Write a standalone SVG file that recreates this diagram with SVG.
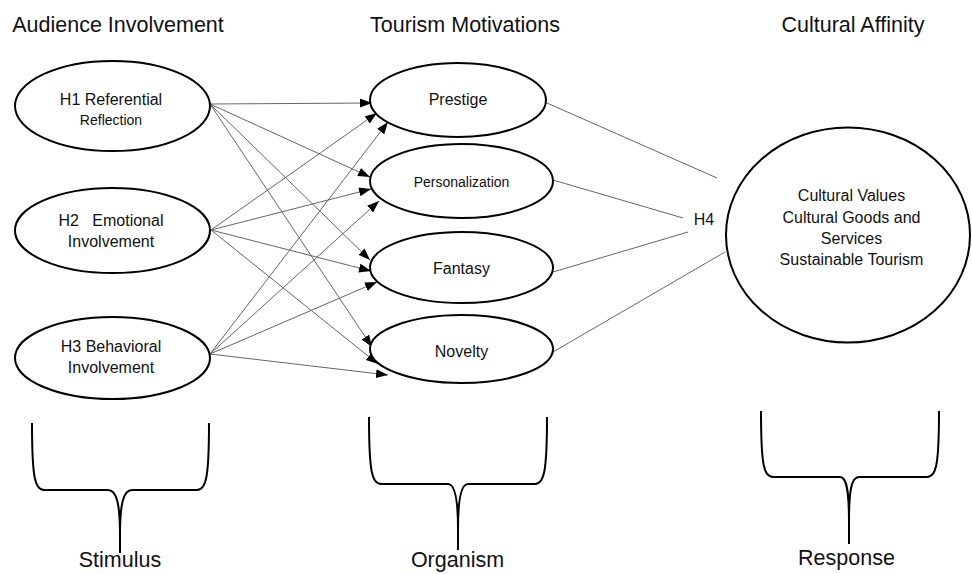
<svg xmlns="http://www.w3.org/2000/svg" width="972" height="574" viewBox="0 0 972 574">
<style>
text{font-family:"Liberation Sans",Arial,sans-serif;fill:#111;text-anchor:middle}
.title{font-size:21.5px}
.lbl{font-size:16px}
.sm{font-size:14px}
.node{fill:#fff;stroke:#000;stroke-width:2}
.arr{stroke:#666;stroke-width:1;fill:none;marker-end:url(#ah)}
.ln{stroke:#666;stroke-width:1;fill:none}
.brace{stroke:#000;stroke-width:2;fill:none}
</style>
<defs>
<marker id="ah" markerUnits="userSpaceOnUse" markerWidth="13" markerHeight="10" refX="12" refY="4.5" orient="auto">
<path d="M0,0 L12,4.5 L0,9 z" fill="#000"/>
</marker>
</defs>
<g id="titles">
<text class="title" x="118" y="32">Audience Involvement</text>
<text class="title" x="465" y="32">Tourism Motivations</text>
<text class="title" x="853" y="32">Cultural Affinity</text>
</g>
<g id="connectors">
<line class="arr" x1="210" y1="104" x2="372" y2="103"/>
<line class="arr" x1="210" y1="104" x2="370" y2="177"/>
<line class="arr" x1="210" y1="104" x2="370" y2="260"/>
<line class="arr" x1="210" y1="104" x2="372" y2="347"/>
<line class="arr" x1="211" y1="230" x2="377" y2="113"/>
<line class="arr" x1="211" y1="230" x2="371" y2="189"/>
<line class="arr" x1="211" y1="230" x2="371" y2="271"/>
<line class="arr" x1="211" y1="230" x2="378" y2="364"/>
<line class="arr" x1="210" y1="354" x2="388" y2="122"/>
<line class="arr" x1="210" y1="354" x2="379" y2="201"/>
<line class="arr" x1="210" y1="354" x2="377" y2="282"/>
<line class="arr" x1="210" y1="354" x2="388" y2="375"/>
<line class="ln" x1="547" y1="103" x2="717" y2="178"/>
<line class="ln" x1="553" y1="180" x2="683" y2="218"/>
<line class="ln" x1="553" y1="272" x2="688" y2="232"/>
<line class="ln" x1="553" y1="352" x2="725" y2="252"/>
</g>
<g id="h1">
<ellipse class="node" cx="112.5" cy="106" rx="97.5" ry="45"/>
<text class="lbl" x="111" y="105">H1 Referential</text>
<text class="sm" x="111" y="125">Reflection</text>
</g>
<g id="h2">
<ellipse class="node" cx="112.5" cy="230.5" rx="97.5" ry="42.5"/>
<text class="lbl" x="111" y="226" xml:space="preserve">H2   Emotional</text>
<text class="lbl" x="111" y="247">Involvement</text>
</g>
<g id="h3">
<ellipse class="node" cx="112.5" cy="358" rx="97.5" ry="41"/>
<text class="lbl" x="111" y="352">H3 Behavioral</text>
<text class="lbl" x="111" y="373">Involvement</text>
</g>
<g id="prestige">
<ellipse class="node" cx="458" cy="100" rx="88" ry="37"/>
<text class="lbl" x="458" y="105">Prestige</text>
</g>
<g id="personalization">
<ellipse class="node" cx="461.5" cy="181" rx="91.5" ry="37"/>
<text class="sm" x="461.5" y="187">Personalization</text>
</g>
<g id="fantasy">
<ellipse class="node" cx="461.5" cy="267.5" rx="91.5" ry="35.5"/>
<text class="lbl" x="461.5" y="274">Fantasy</text>
</g>
<g id="novelty">
<ellipse class="node" cx="461.5" cy="349" rx="91.5" ry="34"/>
<text class="lbl" x="461.5" y="357">Novelty</text>
</g>
<g id="h4">
<text class="lbl" x="704" y="225">H4</text>
</g>
<g id="culture">
<ellipse class="node" cx="848" cy="235" rx="122" ry="107.5"/>
<text class="lbl" x="851.5" y="201">Cultural Values</text>
<text class="lbl" x="851.5" y="223">Cultural Goods and</text>
<text class="lbl" x="851.5" y="244">Services</text>
<text class="lbl" x="851.5" y="265">Sustainable Tourism</text>
</g>
<g id="stimulus">
<path class="brace" d="M32,423 C32,478 35,490 44,490 L108,490 C117,490 120,505 120,535 L120,553 M209,423 C209,478 206,490 197,490 L132,490 C123,490 120,505 120,535"/>
<text class="title" x="120" y="567">Stimulus</text>
</g>
<g id="organism">
<path class="brace" d="M369,417 C369,472 372,484 381,484 L448,484 C455,484 458,499 458,529 L458,550 M547,417 C547,472 544,484 535,484 L468,484 C461,484 458,499 458,529"/>
<text class="title" x="457.5" y="567">Organism</text>
</g>
<g id="response">
<path class="brace" d="M761,411 C761,466 764,477 773,477 L840,477 C847,477 849,492 849,522 L849,544 M939,411 C939,466 936,477 927,477 L859,477 C851,477 849,492 849,522"/>
<text class="title" x="846.5" y="565">Response</text>
</g>
</svg>
